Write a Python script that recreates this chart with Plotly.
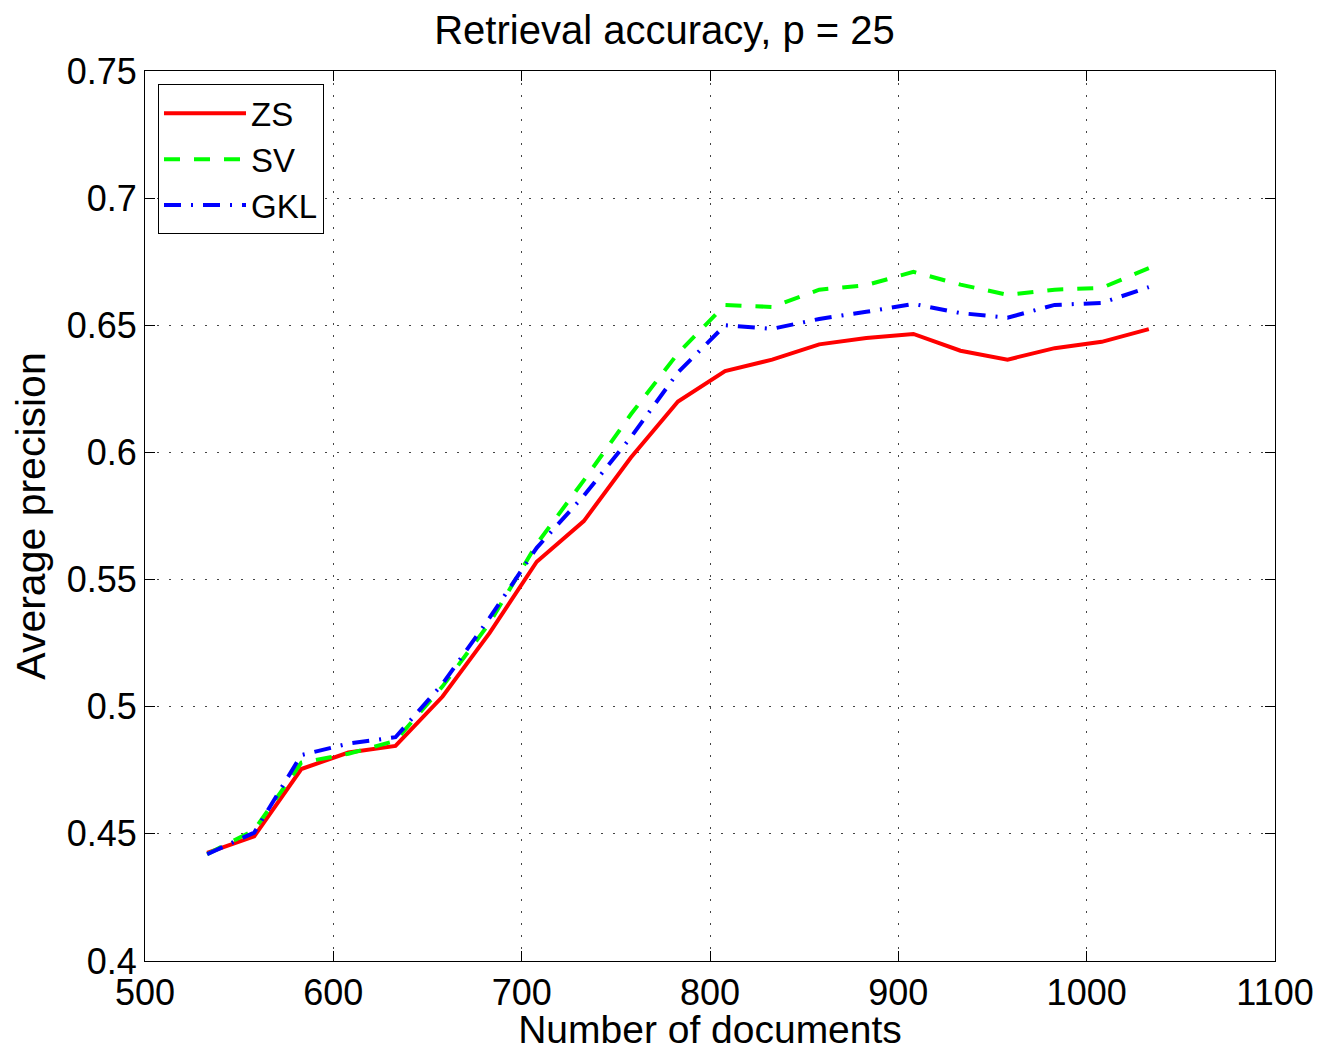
import plotly.graph_objects as go

docs = [533, 558, 583, 608, 633, 658, 683, 708, 733, 758, 783,
        808, 833, 858, 883, 908, 933, 958, 983, 1008, 1033]
zs = [0.4425, 0.449, 0.4755, 0.482, 0.4846, 0.504, 0.529, 0.557, 0.573, 0.598, 0.620,
      0.632, 0.6365, 0.6425, 0.645, 0.6466, 0.640, 0.6365, 0.641, 0.6435, 0.6485]
sv = [0.442, 0.4515, 0.478, 0.4815, 0.4866, 0.508, 0.533, 0.564, 0.589, 0.615, 0.639,
      0.658, 0.6572, 0.664, 0.6658, 0.671, 0.666, 0.662, 0.664, 0.6647, 0.6725]
gkl = [0.442, 0.4505, 0.481, 0.4855, 0.488, 0.509, 0.535, 0.5625, 0.583, 0.606, 0.6315,
       0.650, 0.6486, 0.6525, 0.6553, 0.6584, 0.6548, 0.653, 0.658, 0.6588, 0.665]

FONT = "Liberation Sans, Arial, Helvetica, sans-serif"
W, H = 1313, 1043

fig = go.Figure()
fig.add_trace(go.Scatter(x=docs, y=zs, mode="lines", name="ZS",
                         line=dict(color="#ff0000", width=4)))
fig.add_trace(go.Scatter(x=docs, y=sv, mode="lines", name="SV",
                         line=dict(color="#00ff00", width=4, dash="16px,14px")))
fig.add_trace(go.Scatter(x=docs, y=gkl, mode="lines", name="GKL",
                         line=dict(color="#0000ff", width=4, dash="17px,10px,2px,10px")))

axis_common = dict(
    showline=True, linecolor="black", linewidth=1, mirror="ticks",
    ticks="inside", ticklen=10, tickcolor="black",
    showgrid=True, gridcolor="#444444", griddash="2px,10px", gridwidth=1,
    zeroline=False, automargin=False,
    tickfont=dict(family=FONT, size=36, color="black"),
)

fig.update_layout(
    width=W, height=H,
    paper_bgcolor="white", plot_bgcolor="white",
    margin=dict(l=137, r=46, t=63, b=90),
    font=dict(family=FONT, color="black"),
    title=dict(text="Retrieval accuracy, p = 25", x=0.5, xanchor="center",
               y=1 - 22 / H, yanchor="middle", yref="container",
               font=dict(family=FONT, size=40, color="black")),
    xaxis=dict(range=[500, 1100], tickvals=[500, 600, 700, 800, 900, 1000, 1100],
               title=dict(text="Number of documents", standoff=6,
                          font=dict(family=FONT, size=39, color="black")),
               **axis_common),
    yaxis=dict(range=[0.4, 0.75], tickvals=[0.4, 0.45, 0.5, 0.55, 0.6, 0.65, 0.7, 0.75],
               ticktext=["0.4", "0.45", "0.5", "0.55", "0.6", "0.65", "0.7", "0.75"],
               title=dict(text="Average precision", standoff=14,
                          font=dict(family=FONT, size=41, color="black")),
               **axis_common),
    legend=dict(x=0.0115, y=0.985, xanchor="left", yanchor="top",
                bgcolor="white", bordercolor="black", borderwidth=1,
                font=dict(family=FONT, size=33, color="black"),
                itemwidth=82, tracegroupgap=0),
    showlegend=True,
)

fig.write_html("out.html")
